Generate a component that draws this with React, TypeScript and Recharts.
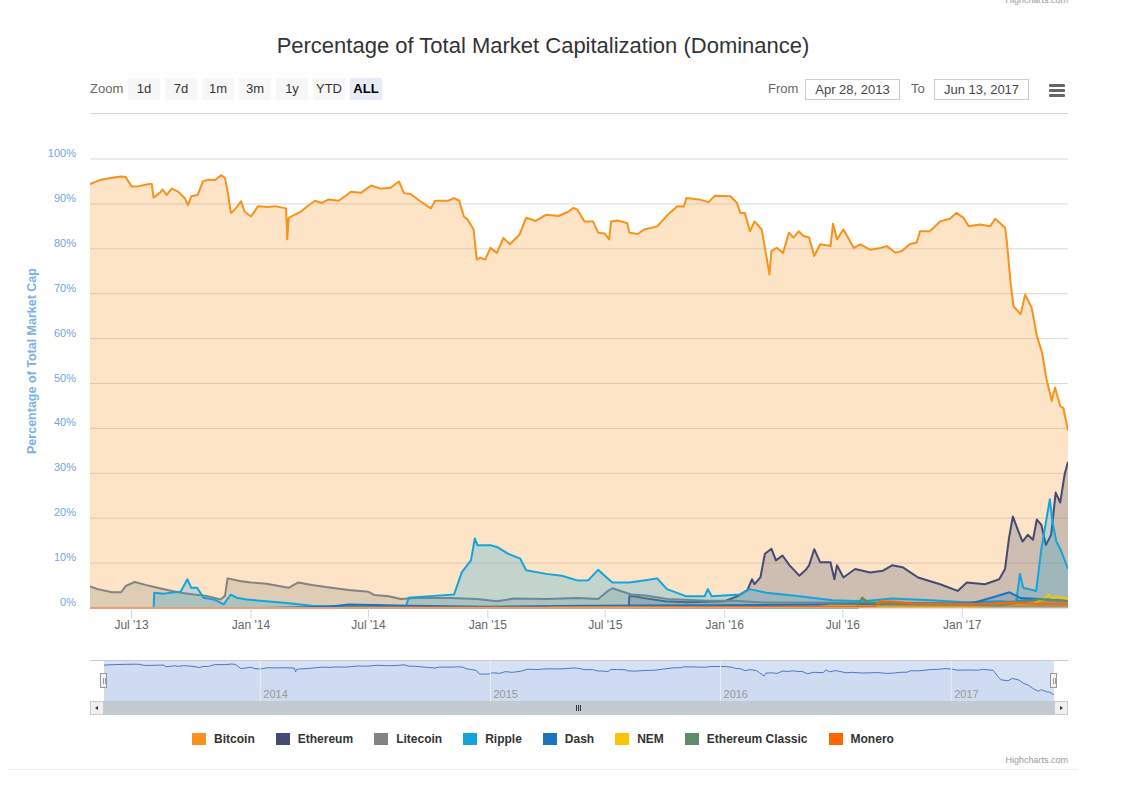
import React from 'react';
import { AreaChart, Area, XAxis, YAxis, CartesianGrid, ReferenceLine } from 'recharts';

type Pt = [string, number];

const bitcoin: Pt[] = [
  ['2013-04-28', 94.4], ['2013-05-15', 95.4], ['2013-06-01', 95.8], ['2013-06-15', 96.1], ['2013-06-22', 96.0],
  ['2013-07-01', 93.9], ['2013-07-11', 93.9], ['2013-07-24', 94.3], ['2013-08-01', 94.5], ['2013-08-04', 91.4],
  ['2013-08-13', 92.4], ['2013-08-18', 93.2], ['2013-08-24', 92.0], ['2013-09-01', 93.4], ['2013-09-10', 92.8],
  ['2013-09-21', 91.3], ['2013-09-26', 89.7], ['2013-10-01', 91.7], ['2013-10-11', 92.0], ['2013-10-19', 95.0],
  ['2013-10-27', 95.4], ['2013-11-07', 95.3], ['2013-11-16', 96.4], ['2013-11-22', 95.8], ['2013-11-27', 92.0],
  ['2013-12-01', 88.0], ['2013-12-07', 88.7], ['2013-12-17', 90.6], ['2013-12-22', 88.3], ['2014-01-01', 87.2],
  ['2014-01-12', 89.5], ['2014-01-27', 89.3], ['2014-02-07', 89.5], ['2014-02-24', 89.0], ['2014-02-26', 82.1],
  ['2014-02-28', 86.9], ['2014-03-19', 88.3], ['2014-04-01', 89.8], ['2014-04-10', 90.7], ['2014-04-20', 90.2],
  ['2014-05-01', 91.0], ['2014-05-16', 90.7], ['2014-05-26', 91.7], ['2014-06-04', 92.7], ['2014-06-20', 92.5],
  ['2014-07-05', 94.1], ['2014-07-20', 93.4], ['2014-08-04', 93.6], ['2014-08-17', 95.0], ['2014-08-25', 92.4],
  ['2014-09-04', 92.2], ['2014-09-19', 90.6], ['2014-10-05', 89.0], ['2014-10-12', 90.7], ['2014-11-01', 90.7],
  ['2014-11-10', 91.3], ['2014-11-18', 90.7], ['2014-11-25', 87.2], ['2014-12-01', 86.5], ['2014-12-10', 84.3],
  ['2014-12-15', 77.6], ['2014-12-20', 78.0], ['2014-12-28', 77.6], ['2015-01-05', 80.2], ['2015-01-15', 79.1],
  ['2015-01-25', 82.4], ['2015-02-04', 81.0], ['2015-02-19', 83.2], ['2015-03-01', 86.9], ['2015-03-16', 86.2],
  ['2015-04-01', 87.6], ['2015-04-20', 87.3], ['2015-05-04', 88.2], ['2015-05-13', 89.1], ['2015-05-19', 88.7],
  ['2015-05-30', 86.1], ['2015-06-12', 86.1], ['2015-06-20', 83.6], ['2015-06-30', 83.4], ['2015-07-07', 82.1],
  ['2015-07-10', 86.1], ['2015-07-20', 86.3], ['2015-08-04', 85.7], ['2015-08-07', 83.6], ['2015-08-20', 83.3],
  ['2015-08-30', 84.3], ['2015-09-19', 85.0], ['2015-10-04', 87.4], ['2015-10-20', 89.5], ['2015-10-30', 89.4],
  ['2015-11-03', 91.3], ['2015-11-25', 90.9], ['2015-12-07', 90.4], ['2015-12-17', 91.8], ['2016-01-10', 91.7],
  ['2016-01-20', 90.2], ['2016-01-25', 88.0], ['2016-02-01', 88.0], ['2016-02-09', 83.9], ['2016-02-16', 86.1],
  ['2016-02-27', 84.3], ['2016-03-03', 80.2], ['2016-03-10', 74.3], ['2016-03-13', 79.5], ['2016-03-21', 80.2],
  ['2016-03-31', 79.1], ['2016-04-09', 83.6], ['2016-04-16', 82.5], ['2016-04-24', 83.9], ['2016-05-01', 82.9],
  ['2016-05-10', 82.5], ['2016-05-18', 78.4], ['2016-05-27', 81.0], ['2016-06-12', 80.6], ['2016-06-16', 85.6],
  ['2016-06-22', 82.1], ['2016-07-02', 84.3], ['2016-07-18', 80.2], ['2016-07-28', 81.0], ['2016-08-12', 79.8],
  ['2016-08-28', 80.2], ['2016-09-07', 80.6], ['2016-09-20', 79.1], ['2016-09-30', 79.5], ['2016-10-12', 81.0],
  ['2016-10-23', 81.4], ['2016-10-28', 83.9], ['2016-11-12', 83.9], ['2016-11-28', 86.1], ['2016-12-13', 86.7],
  ['2016-12-23', 88.0], ['2017-01-03', 86.9], ['2017-01-11', 85.0], ['2017-01-28', 85.4], ['2017-02-13', 85.0],
  ['2017-02-21', 86.7], ['2017-03-08', 84.7], ['2017-03-11', 81.3], ['2017-03-16', 73.2], ['2017-03-21', 67.2],
  ['2017-04-01', 65.4], ['2017-04-08', 69.8], ['2017-04-18', 66.9], ['2017-04-26', 60.6], ['2017-05-04', 56.9],
  ['2017-05-11', 50.9], ['2017-05-19', 46.1], ['2017-05-24', 49.1], ['2017-06-01', 45.0], ['2017-06-06', 44.5],
  ['2017-06-13', 39.5],
];

const ethereum: Pt[] = [
  ['2013-04-28', 0], ['2015-08-06', 0], ['2015-08-07', 2.6], ['2015-08-14', 2.6], ['2015-08-30', 2.2],
  ['2015-10-01', 1.5], ['2015-11-05', 1.3], ['2016-01-01', 1.5], ['2016-01-20', 2.6], ['2016-02-05', 4.0],
  ['2016-02-12', 6.4], ['2016-02-16', 5.3], ['2016-02-25', 6.8], ['2016-03-03', 12.1], ['2016-03-13', 13.2],
  ['2016-03-20', 10.6], ['2016-03-30', 11.7], ['2016-04-10', 9.5], ['2016-04-25', 7.2], ['2016-05-05', 8.5],
  ['2016-05-10', 9.5], ['2016-05-18', 13.1], ['2016-05-27', 10.2], ['2016-06-12', 10.2], ['2016-06-18', 6.4],
  ['2016-06-22', 9.5], ['2016-07-02', 6.8], ['2016-07-20', 8.7], ['2016-08-12', 7.9], ['2016-09-01', 8.3],
  ['2016-09-15', 9.5], ['2016-10-01', 9.1], ['2016-10-25', 6.8], ['2016-11-28', 5.3], ['2016-12-25', 3.8],
  ['2017-01-08', 5.7], ['2017-02-05', 5.3], ['2017-02-27', 6.4], ['2017-03-08', 8.7], ['2017-03-14', 15.5],
  ['2017-03-20', 20.4], ['2017-03-28', 17.3], ['2017-04-04', 14.8], ['2017-04-12', 16.3], ['2017-04-20', 15.2],
  ['2017-04-26', 19.7], ['2017-05-03', 18.5], ['2017-05-10', 14.0], ['2017-05-18', 16.3], ['2017-05-25', 25.7],
  ['2017-06-01', 23.5], ['2017-06-08', 29.9], ['2017-06-13', 32.5],
];

const litecoin: Pt[] = [
  ['2013-04-28', 4.8], ['2013-05-10', 4.2], ['2013-06-01', 3.5], ['2013-06-15', 3.5], ['2013-06-22', 4.9],
  ['2013-07-06', 5.8], ['2013-07-24', 5.1], ['2013-08-10', 4.5], ['2013-09-01', 3.8], ['2013-09-15', 3.4],
  ['2013-10-05', 3.0], ['2013-10-25', 2.7], ['2013-11-15', 1.9], ['2013-11-22', 2.7], ['2013-11-26', 6.6],
  ['2013-12-15', 6.0], ['2014-01-01', 5.7], ['2014-01-25', 5.4], ['2014-02-28', 4.5], ['2014-03-15', 5.7],
  ['2014-04-05', 5.1], ['2014-05-05', 4.5], ['2014-06-01', 4.0], ['2014-07-01', 3.6], ['2014-07-10', 2.9],
  ['2014-08-01', 2.6], ['2014-08-20', 2.0], ['2014-09-10', 2.2], ['2014-10-05', 2.2], ['2014-11-05', 2.2],
  ['2014-12-15', 2.0], ['2015-01-15', 1.5], ['2015-02-10', 2.1], ['2015-04-01', 2.0], ['2015-05-20', 2.2],
  ['2015-06-20', 2.0], ['2015-07-05', 3.8], ['2015-07-12', 4.4], ['2015-08-10', 3.0], ['2015-09-01', 2.8],
  ['2015-10-05', 2.0], ['2015-12-05', 1.6], ['2016-01-15', 1.6], ['2016-03-01', 1.2], ['2016-06-01', 1.2],
  ['2016-09-01', 1.2], ['2016-12-01', 1.0], ['2017-02-01', 1.0], ['2017-03-25', 1.5], ['2017-04-20', 2.0],
  ['2017-05-10', 1.8], ['2017-06-13', 1.5],
];

const ripple: Pt[] = [
  ['2013-04-28', 0], ['2013-08-04', 0], ['2013-08-05', 3.4], ['2013-08-20', 3.2], ['2013-09-15', 3.7],
  ['2013-09-25', 6.4], ['2013-10-01', 4.5], ['2013-10-10', 4.5], ['2013-10-20', 2.3], ['2013-11-05', 1.9],
  ['2013-11-20', 0.8], ['2013-12-01', 3.0], ['2013-12-10', 2.3], ['2013-12-25', 1.9], ['2014-01-25', 1.5],
  ['2014-02-25', 1.1], ['2014-04-05', 0.5], ['2014-05-25', 0.4], ['2014-08-28', 0.4], ['2014-09-01', 2.3],
  ['2014-10-10', 2.7], ['2014-11-10', 3.0], ['2014-11-22', 8.0], ['2014-12-06', 10.6], ['2014-12-12', 15.5],
  ['2014-12-16', 14.0], ['2015-01-05', 14.0], ['2015-01-15', 13.6], ['2015-02-01', 12.1], ['2015-02-20', 11.0],
  ['2015-03-01', 8.4], ['2015-04-01', 7.6], ['2015-04-25', 7.2], ['2015-05-20', 6.1], ['2015-06-05', 6.2],
  ['2015-06-20', 8.5], ['2015-06-30', 7.2], ['2015-07-12', 5.7], ['2015-08-07', 5.7], ['2015-09-01', 6.2],
  ['2015-09-19', 6.6], ['2015-10-04', 4.2], ['2015-11-03', 2.6], ['2015-12-01', 2.6], ['2015-12-06', 4.2],
  ['2015-12-12', 2.6], ['2016-01-25', 3.0], ['2016-02-08', 4.2], ['2016-03-05', 3.4], ['2016-04-25', 2.6],
  ['2016-06-15', 1.7], ['2016-08-01', 1.5], ['2016-09-15', 2.1], ['2016-11-15', 1.7], ['2017-01-05', 1.3],
  ['2017-03-01', 1.5], ['2017-03-25', 1.2], ['2017-03-31', 7.6], ['2017-04-05', 4.5], ['2017-04-25', 3.8],
  ['2017-05-03', 13.2], ['2017-05-16', 24.2], ['2017-05-20', 19.3], ['2017-05-26', 14.8], ['2017-06-01', 13.2],
  ['2017-06-13', 8.7],
];

const dash: Pt[] = [
  ['2013-04-28', 0], ['2014-01-20', 0], ['2014-05-01', 0.3], ['2014-06-01', 0.8], ['2014-09-01', 0.5],
  ['2015-01-01', 0.3], ['2015-06-01', 0.5], ['2016-01-01', 0.6], ['2016-06-01', 0.8], ['2016-11-01', 1.0],
  ['2017-01-15', 1.0], ['2017-02-20', 2.5], ['2017-03-15', 3.5], ['2017-04-01', 2.2], ['2017-05-01', 2.0],
  ['2017-06-13', 1.6],
];

const nem: Pt[] = [
  ['2013-04-28', 0], ['2015-04-01', 0], ['2015-04-10', 0.1], ['2016-05-25', 0.2], ['2016-06-10', 0.5],
  ['2016-07-20', 0.5], ['2016-09-01', 0.3], ['2017-01-01', 0.3], ['2017-03-01', 0.7], ['2017-04-20', 1.0],
  ['2017-05-08', 2.0], ['2017-05-14', 3.0], ['2017-05-20', 2.2], ['2017-05-28', 2.5], ['2017-06-13', 2.0],
];

const ethereumClassic: Pt[] = [
  ['2013-04-28', 0], ['2016-07-24', 0], ['2016-07-25', 1.0], ['2016-07-31', 2.3], ['2016-08-10', 1.2],
  ['2016-09-01', 1.0], ['2016-11-01', 0.8], ['2017-01-01', 0.7], ['2017-03-01', 0.6], ['2017-04-01', 1.2],
  ['2017-05-01', 2.0], ['2017-05-20', 1.8], ['2017-06-13', 1.5],
];

const monero: Pt[] = [
  ['2013-04-28', 0], ['2014-05-20', 0], ['2014-06-01', 0.1], ['2015-06-01', 0.1], ['2016-03-01', 0.2],
  ['2016-08-20', 0.4], ['2016-08-28', 1.5], ['2016-09-20', 1.4], ['2016-10-15', 1.0], ['2016-12-01', 0.9],
  ['2017-02-01', 0.9], ['2017-03-15', 1.2], ['2017-04-15', 1.0], ['2017-06-13', 0.9],
];

const seriesNames = ['Bitcoin', 'Ethereum', 'Litecoin', 'Ripple', 'Dash', 'NEM', 'Ethereum Classic', 'Monero'];
const seriesColors = ['#F7931A', '#454A75', '#838383', '#14A4DC', '#1C75BC', '#FBC300', '#5E8B6A', '#FF6600'];
const seriesPoints = [bitcoin, ethereum, litecoin, ripple, dash, nem, ethereumClassic, monero];

const xTickDates = ['2013-07-01', '2014-01-01', '2014-07-01', '2015-01-01', '2015-07-01', '2016-01-01', '2016-07-01', '2017-01-01'];
const navTickDates = ['2014-01-01', '2015-01-01', '2016-01-01', '2017-01-01'];
const yTicks = [0, 10, 20, 30, 40, 50, 60, 70, 80, 90, 100];
const zoomButtons = ['1d', '7d', '1m', '3m', '1y', 'YTD', 'ALL'];
const fromDate = 'Apr 28, 2013';
const toDate = 'Jun 13, 2017';
const monthNames = ['Jan', 'Feb', 'Mar', 'Apr', 'May', 'Jun', 'Jul', 'Aug', 'Sep', 'Oct', 'Nov', 'Dec'];

const toT = (d: string) => {
  const [y, m, dd] = d.split('-').map(Number);
  return Date.UTC(y, m - 1, dd);
};

const T0 = toT('2013-04-28');
const T1 = toT('2017-06-13');

const keys = seriesNames.map((_, i) => 's' + i);
const maps = seriesPoints.map((pts) => new Map(pts.map((p) => [p[0], p[1]])));
const allDates = Array.from(new Set(seriesPoints.flatMap((pts) => pts.map((p) => p[0])))).sort();
const rows = allDates.map((d) => {
  const r: any = { t: toT(d) };
  maps.forEach((m, i) => {
    const v = m.get(d);
    r[keys[i]] = v === undefined ? null : v;
  });
  return r;
});
const navRows = bitcoin.map((p) => ({ t: toT(p[0]), v: p[1] }));

const fmtX = (t: number) => {
  const d = new Date(t);
  return `${monthNames[d.getUTCMonth()]} '${String(d.getUTCFullYear()).slice(2)}`;
};

const FONT = '"Liberation Sans", Arial, Helvetica, sans-serif';

const YTick = (props: any) => {
  const { y, payload } = props;
  return (
    <text x={76} y={y - 2} textAnchor="end" fill="#6FA6E0" fontSize={11} fontFamily={FONT}>
      {payload.value}%
    </text>
  );
};

const Handle = ({ left }: { left: number }) => (
  <div
    style={{
      position: 'absolute', left, top: 673, width: 7, height: 15, background: '#f2f2f2',
      border: '1px solid #999', boxSizing: 'border-box',
    }}
  >
    <div style={{ position: 'absolute', left: 1.5, top: 4, width: 1, height: 6, background: '#999' }} />
    <div style={{ position: 'absolute', left: 3.5, top: 4, width: 1, height: 6, background: '#999' }} />
  </div>
);

export default function App() {
  return (
    <div style={{ position: 'absolute', left: 0, top: 0, width: 1137, height: 791, background: '#fff', fontFamily: FONT, overflow: 'hidden' }}>
      {/* credits */}
      <div style={{ position: 'absolute', right: 1137 - 1068, top: -5, fontSize: 9, color: '#999' }}>Highcharts.com</div>

      {/* title */}
      <div style={{ position: 'absolute', left: 8, width: 1070, top: 32, height: 28, lineHeight: '28px', textAlign: 'center', fontSize: 22, color: '#333' }}>
        Percentage of Total Market Capitalization (Dominance)
      </div>

      {/* range selector */}
      <div style={{ position: 'absolute', left: 90, top: 78, height: 22, lineHeight: '22px', fontSize: 13, color: '#666' }}>Zoom</div>
      {zoomButtons.map((b, i) => (
        <div
          key={b}
          style={{
            position: 'absolute', left: 128 + i * 37, top: 78, width: 32, height: 22, lineHeight: '22px',
            textAlign: 'center', fontSize: 13, color: b === 'ALL' ? '#000' : '#333',
            fontWeight: b === 'ALL' ? 'bold' : 'normal', background: b === 'ALL' ? '#e6ebf5' : '#f7f7f7',
          }}
        >
          {b}
        </div>
      ))}
      <div style={{ position: 'absolute', left: 768, top: 78, height: 22, lineHeight: '22px', fontSize: 13, color: '#666' }}>From</div>
      <div style={{ position: 'absolute', left: 805, top: 79, width: 95, height: 21, lineHeight: '19px', boxSizing: 'border-box', border: '1px solid #ccc', textAlign: 'center', fontSize: 13, color: '#444' }}>{fromDate}</div>
      <div style={{ position: 'absolute', left: 911, top: 78, height: 22, lineHeight: '22px', fontSize: 13, color: '#666' }}>To</div>
      <div style={{ position: 'absolute', left: 934, top: 79, width: 95, height: 21, lineHeight: '19px', boxSizing: 'border-box', border: '1px solid #ccc', textAlign: 'center', fontSize: 13, color: '#444' }}>{toDate}</div>
      {[0, 1, 2].map((i) => (
        <div key={i} style={{ position: 'absolute', left: 1049, top: 84 + i * 5, width: 16, height: 3, background: '#666', borderRadius: 1 }} />
      ))}
      <div style={{ position: 'absolute', left: 90, top: 113, width: 978, height: 1, background: '#d6d6d6' }} />

      {/* y axis title */}
      <div
        style={{
          position: 'absolute', left: 32, top: 361, transform: 'translate(-50%, -50%) rotate(-90deg)',
          whiteSpace: 'nowrap', fontSize: 12.5, fontWeight: 'bold', color: '#7CB0E8',
        }}
      >
        Percentage of Total Market Cap
      </div>

      {/* main chart */}
      <div style={{ position: 'absolute', left: 0, top: 0 }}>
        <AreaChart width={1137} height={650} data={rows} margin={{ top: 159, right: 69, bottom: 12, left: 0 }}>
          <CartesianGrid vertical={false} stroke="#d9d9d9" />
          <XAxis
            dataKey="t"
            type="number"
            scale="time"
            domain={[T0, T1]}
            ticks={xTickDates.map(toT)}
            tickFormatter={fmtX}
            height={30}
            tickSize={10}
            axisLine={{ stroke: '#ccd6eb' }}
            tickLine={{ stroke: '#ccd6eb' }}
            tick={{ fill: '#666', fontSize: 12, fontFamily: FONT }}
            allowDataOverflow
          />
          <YAxis type="number" domain={[0, 100]} ticks={yTicks} width={90} axisLine={false} tickLine={false} tick={<YTick />} />
          {keys.map((k, i) => (
            <Area
              key={k}
              type="linear"
              dataKey={k}
              name={seriesNames[i]}
              stroke={seriesColors[i]}
              strokeWidth={2}
              strokeLinejoin="round"
              fill={seriesColors[i]}
              fillOpacity={0.25}
              connectNulls
              dot={false}
              activeDot={false}
              isAnimationActive={false}
            />
          ))}
        </AreaChart>
      </div>

      {/* navigator */}
      <div style={{ position: 'absolute', left: 104, top: 661, width: 950, height: 40, background: '#d6e2f4' }} />
      <div style={{ position: 'absolute', left: 90, top: 660, width: 978, height: 1, background: '#cccccc' }} />
      <div style={{ position: 'absolute', left: 0, top: 655 }}>
        <AreaChart width={1137} height={50} data={navRows} margin={{ top: 6, right: 83, bottom: 4, left: 104 }}>
          <XAxis dataKey="t" type="number" scale="time" domain={[T0, T1]} hide />
          <YAxis type="number" domain={[28, 102]} hide />
          {navTickDates.map((d) => (
            <ReferenceLine
              key={d}
              x={toT(d)}
              stroke="#e9eef6"
              label={{ value: d.slice(0, 4), position: 'insideBottomLeft', offset: 3, fill: '#999', fontSize: 11, fontFamily: FONT }}
            />
          ))}
          <Area
            type="linear"
            dataKey="v"
            stroke="#4a78c2"
            strokeWidth={1}
            fill="#335cad"
            fillOpacity={0.05}
            dot={false}
            activeDot={false}
            isAnimationActive={false}
          />
        </AreaChart>
      </div>
      <Handle left={100} />
      <Handle left={1050} />

      {/* scrollbar */}
      <div style={{ position: 'absolute', left: 90, top: 701, width: 978, height: 14, background: '#f2f2f2' }} />
      <div style={{ position: 'absolute', left: 104, top: 701, width: 950, height: 14, background: '#c3c9d1' }} />
      {[0, 1, 2].map((i) => (
        <div key={i} style={{ position: 'absolute', left: 576 + i * 2, top: 705, width: 1, height: 6, background: '#333' }} />
      ))}
      <div style={{ position: 'absolute', left: 90, top: 701, width: 14, height: 14, boxSizing: 'border-box', background: '#f0f0f0', border: '1px solid #ccc' }}>
        <div style={{ position: 'absolute', left: 4, top: 4, width: 0, height: 0, borderTop: '2.5px solid transparent', borderBottom: '2.5px solid transparent', borderRight: '3px solid #333' }} />
      </div>
      <div style={{ position: 'absolute', left: 1054, top: 701, width: 14, height: 14, boxSizing: 'border-box', background: '#f0f0f0', border: '1px solid #ccc' }}>
        <div style={{ position: 'absolute', left: 5, top: 4, width: 0, height: 0, borderTop: '2.5px solid transparent', borderBottom: '2.5px solid transparent', borderLeft: '3px solid #333' }} />
      </div>

      {/* legend */}
      <div style={{ position: 'absolute', left: 8, width: 1070, top: 731, height: 16, display: 'flex', justifyContent: 'center', alignItems: 'center' }}>
        {seriesNames.map((n, i) => (
          <div key={n} style={{ display: 'flex', alignItems: 'center', marginLeft: i === 0 ? 0 : 21 }}>
            <div style={{ width: 14, height: 12, background: seriesColors[i], marginRight: 8 }} />
            <span style={{ fontSize: 12, fontWeight: 'bold', color: '#333' }}>{n}</span>
          </div>
        ))}
      </div>

      <div style={{ position: 'absolute', right: 1137 - 1068, top: 755, fontSize: 9, color: '#999' }}>Highcharts.com</div>
      <div style={{ position: 'absolute', left: 8, top: 769, width: 1070, height: 1, background: '#eeeeee' }} />
    </div>
  );
}
